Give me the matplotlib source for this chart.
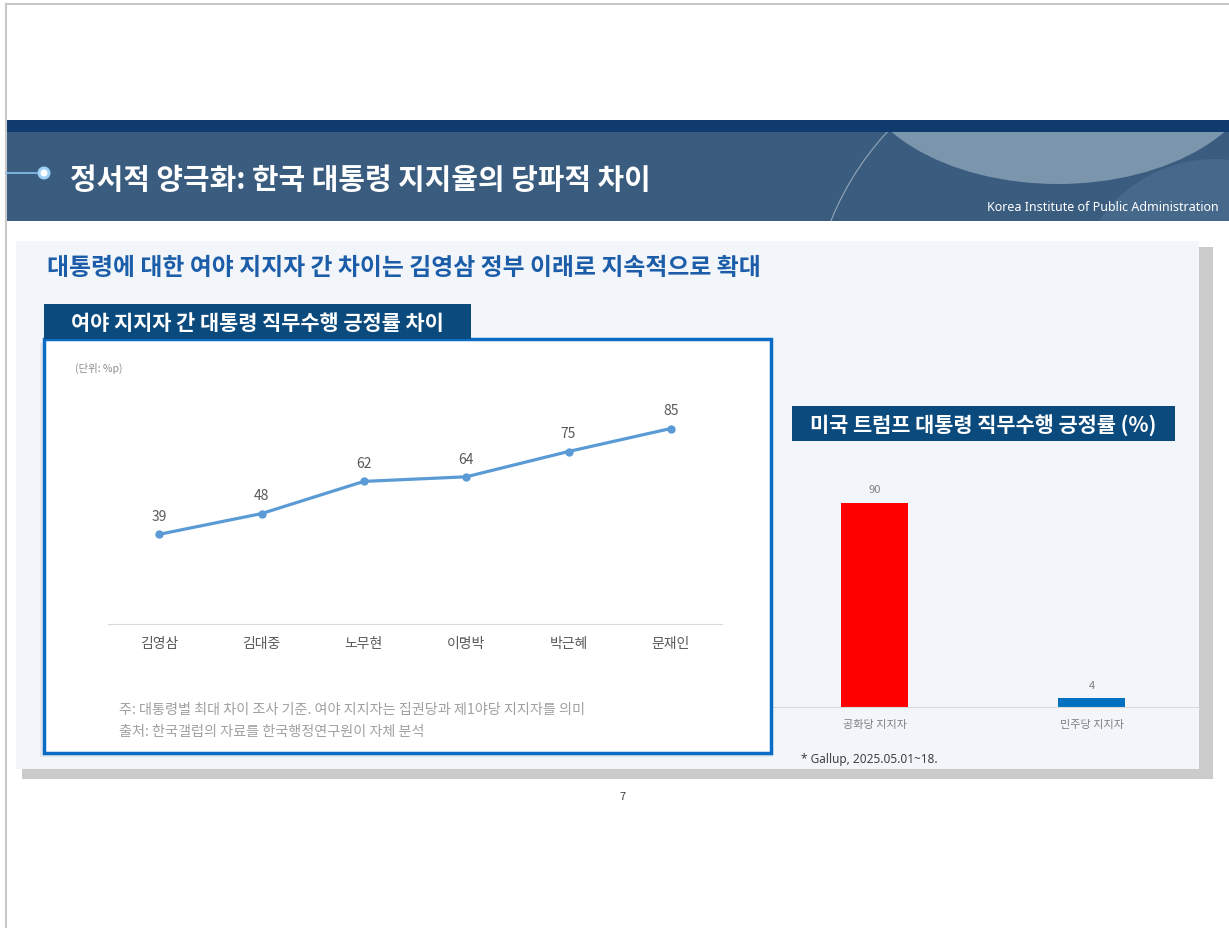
import matplotlib.pyplot as plt
from matplotlib.patches import Rectangle, Ellipse, Circle

plt.rcParams['font.family'] = ['Noto Sans CJK KR', 'DejaVu Sans']

W, H = 1229, 929

# data
presidents = ['김영삼', '김대중', '노무현', '이명박', '박근혜', '문재인']
gap = [39, 48, 62, 64, 75, 85]

parties = ['공화당 지지자', '민주당 지지자']
approval = [90, 4]
bar_colors = ['#ff0000', '#0070c0']

# texts
slide_title = '정서적 양극화: 한국 대통령 지지율의 당파적 차이'
subtitle = '대통령에 대한 여야 지지자 간 차이는 김영삼 정부 이래로 지속적으로 확대'
left_title = '여야 지지자 간 대통령 직무수행 긍정률 차이'
right_title = '미국 트럼프 대통령 직무수행 긍정률 (%)'
note1 = '주: 대통령별 최대 차이 조사 기준. 여야 지지자는 집권당과 제1야당 지지자를 의미'
note2 = '출처: 한국갤럽의 자료를 한국행정연구원이 자체 분석'
gallup = '* Gallup, 2025.05.01~18.'


def box(l, t, r, b):
    # pixel box -> figure fraction rect
    return [l / W, 1 - b / H, (r - l) / W, (b - t) / H]


fig = plt.figure(figsize=(W / 100, H / 100), dpi=100)
fig.patch.set_facecolor('white')

# background layer (pixel coords)
bg = fig.add_axes([0, 0, 1, 1], zorder=0)
bg.set_xlim(0, W)
bg.set_ylim(H, 0)
bg.axis('off')

bg.plot([6, W], [5, 5], color='#c8c8c8', lw=1.5)
bg.plot([6, 6], [5, H], color='#c8c8c8', lw=1.5)

# header
bg.add_patch(Rectangle((6, 121), W - 6, 12, color='#0f3b6f', lw=0))
header = Rectangle((6, 133), W - 6, 89, color='#3a5d7f', lw=0)
bg.add_patch(header)
deco = [
    Ellipse((1058, 60), 410, 250, color='#7b95ac', lw=0),
    Circle((1215, 300), 140, color='#46698b', lw=0),
    Circle((1100, 330), 290, fill=False, ec='white', lw=0.8, alpha=0.45),
]
for p in deco:
    bg.add_patch(p)
    p.set_clip_path(header)
bg.plot([6, 37], [174, 174], color='#8cc0ea', lw=1.2)
bg.add_patch(Circle((44, 174), 6.5, color='#9fd0f5', lw=0))
bg.add_patch(Circle((44, 174), 3.5, color='white', lw=0))
bg.text(70, 180, slide_title, color='white', fontsize=20.8, fontweight='bold', va='center')
bg.text(1219, 207, 'Korea Institute of Public Administration', color='white',
        fontsize=9, ha='right', va='center', family=['Noto Sans', 'DejaVu Sans'])

# content panel
bg.add_patch(Rectangle((22, 248), 1191, 532, color='#cbcbcb', lw=0))
bg.add_patch(Rectangle((16, 242), 1183, 528, color='#f2f5fa', lw=0))
bg.text(47, 268, subtitle, color='#1b5da8', fontsize=17.2, fontweight='bold', va='center')

bg.add_patch(Rectangle((792, 407), 383, 35, color='#0b4a7d', lw=0))
bg.text(983, 425, right_title, color='white', fontsize=15, fontweight='bold',
        ha='center', va='center')
bg.text(801, 759, gallup, color='#404040', fontsize=8.5, va='center',
        family=['Noto Sans', 'DejaVu Sans'])
bg.text(623, 797, '7', color='#404040', fontsize=8, ha='center', va='center')

# bar chart (behind the left box)
axb = fig.add_axes(box(766, 481, 1200, 708), zorder=1)
axb.patch.set_alpha(0)
axb.bar(range(len(parties)), approval, width=0.31, color=bar_colors)
for i, v in enumerate(approval):
    axb.annotate(str(v), (i, v), xytext=(0, 6), textcoords='offset points',
                 ha='center', va='bottom', fontsize=8, color='#7f7f7f')
axb.set_xlim(-0.5, 1.5)
axb.set_ylim(0, 100)
axb.set_xticks(range(len(parties)))
axb.set_xticklabels(parties, fontsize=8, color='#808080')
axb.tick_params(axis='x', length=0, pad=9)
axb.set_yticks([])
for s in ['top', 'right', 'left']:
    axb.spines[s].set_visible(False)
axb.spines['bottom'].set_color('#d9d9d9')

# left box layer
ov = fig.add_axes([0, 0, 1, 1], zorder=2)
ov.set_xlim(0, W)
ov.set_ylim(H, 0)
ov.axis('off')
ov.add_patch(Rectangle((40, 344), 733, 414, color='#e4e8ee', lw=0))
ov.add_patch(Rectangle((44, 340), 727, 414, fc='white', ec='#0a6cc4', lw=2.5))
ov.add_patch(Rectangle((44, 305), 427, 35, color='#0b4a7d', lw=0))
ov.text(257, 323, left_title, color='white', fontsize=15, fontweight='bold',
        ha='center', va='center')
ov.text(75, 368, '(단위: %p)', color='#8c8c8c', fontsize=7.5, va='center')
ov.text(119, 710, note1, color='#a0a0a0', fontsize=10.2, va='center')
ov.text(119, 732, note2, color='#a0a0a0', fontsize=10.2, va='center')

# line chart
axl = fig.add_axes(box(108, 395, 722, 625), zorder=3)
axl.patch.set_alpha(0)
x = range(len(presidents))
axl.plot(x, gap, color='#5b9bd5', lw=2.3, marker='o', markersize=5)
for i, v in enumerate(gap):
    axl.annotate(str(v), (i, v), xytext=(0, 8), textcoords='offset points',
                 ha='center', va='bottom', fontsize=10, color='#595959')
axl.set_xlim(-0.5, 5.5)
axl.set_ylim(0, 100)
axl.set_xticks(list(x))
axl.set_xticklabels(presidents, fontsize=10, color='#595959')
axl.tick_params(axis='x', length=0, pad=9)
axl.set_yticks([])
for s in ['top', 'right', 'left']:
    axl.spines[s].set_visible(False)
axl.spines['bottom'].set_color('#d9d9d9')

fig.savefig('out.png', dpi=100)
